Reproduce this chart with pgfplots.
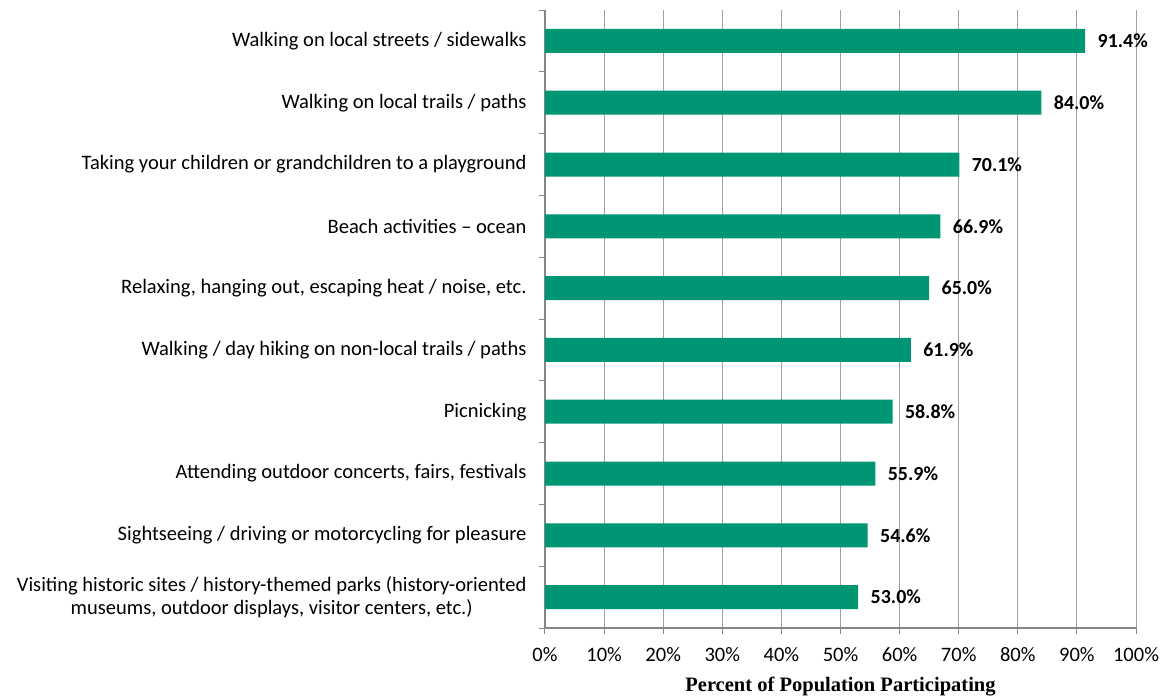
\documentclass[border=0pt]{standalone}
\usepackage{pgfplots}
\pgfplotsset{compat=1.18}
\usepackage{fontspec}
\setmainfont{Carlito}
\newfontfamily\timesfont{Liberation Serif}
\definecolor{bargreen}{RGB}{0,150,115}
\definecolor{gridgray}{RGB}{160,160,160}
\definecolor{axgray}{RGB}{134,134,134}

\begin{document}
\begin{tikzpicture}
\begin{axis}[
  name=ax,
  xbar, bar width=24bp,
  scale only axis, width=591bp, height=618bp,
  xmin=0, xmax=100, ymin=-0.5, ymax=9.5, y dir=reverse,
  axis lines*=left,
  axis line style={axgray, line width=1.2bp},
  xtick={0,10,...,100},
  xticklabels={0\%,10\%,20\%,30\%,40\%,50\%,60\%,70\%,80\%,90\%,100\%},
  ytick={0,...,9},
  yticklabels={
    Walking on local streets / sidewalks,
    Walking on local trails / paths,
    Taking your children or grandchildren to a playground,
    Beach activities – ocean,
    {Relaxing, hanging out, escaping heat / noise, etc.},
    Walking / day hiking on non-local trails / paths,
    Picnicking,
    {Attending outdoor concerts, fairs, festivals},
    Sightseeing / driving or motorcycling for pleasure,
    {Visiting historic sites / history-themed parks (history-oriented\\museums, outdoor displays, visitor centers, etc.)}
  },
  minor ytick={-0.5,0.5,...,9.5},
  major tick length=6bp, minor tick length=6bp,
  tick align=outside,
  tick style={axgray, line width=1bp},
  major y tick style={draw=none},
  xmajorgrids, grid style={gridgray, line width=1bp},
  ticklabel style={font=\fontsize{20.6}{24}\selectfont},
  yticklabel style={align=center, xshift=-9bp},
  xticklabel style={yshift=-10bp},
  xlabel={\timesfont\bfseries Percent of Population Participating},
  xlabel style={font=\fontsize{20.6}{24}\selectfont, yshift=-8bp},
  /pgf/number format/assume math mode=true,
  point meta=x,
  nodes near coords={\pgfmathprintnumber[fixed,fixed zerofill,precision=1]{\pgfplotspointmeta}\%},
  nodes near coords style={font=\bfseries\fontsize{20}{24}\selectfont, anchor=west, xshift=9bp},
]
\addplot[fill=bargreen, draw=none] coordinates {
  (91.4,0) (84.0,1) (70.1,2) (66.9,3) (65.0,4)
  (61.9,5) (58.8,6) (55.9,7) (54.6,8) (53.0,9)
};
\end{axis}
\path ([shift={(-545bp,-70bp)}]ax.south west) rectangle ([shift={(28bp,10bp)}]ax.north east);
\end{tikzpicture}
\end{document}
